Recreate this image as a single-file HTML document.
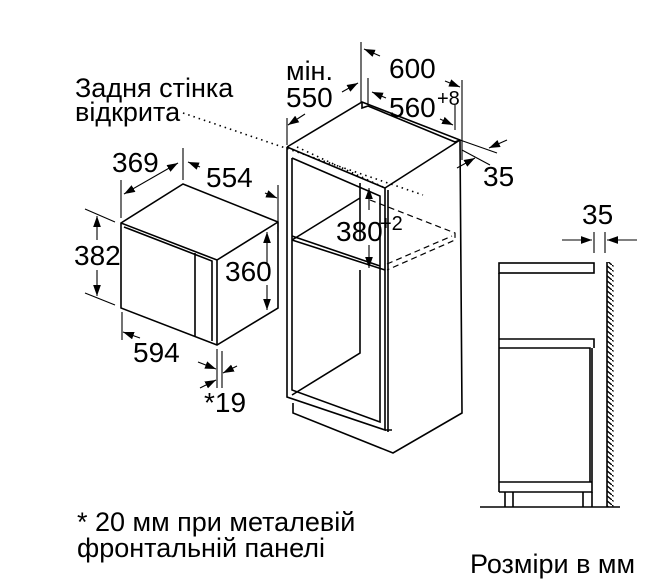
<!DOCTYPE html>
<html><head><meta charset="utf-8"><style>
html,body{margin:0;padding:0;background:#fff}
svg{display:block}
text{font-family:"Liberation Sans",Arial,sans-serif;fill:#000}
</style></head><body>
<svg width="666" height="582" viewBox="0 0 666 582" xmlns="http://www.w3.org/2000/svg">
<defs>
<marker id="a" viewBox="0 0 10 10" refX="10" refY="5" markerWidth="11" markerHeight="11" markerUnits="userSpaceOnUse" orient="auto-start-reverse"><path d="M0,1.5 L10,5 L0,8.5 z" fill="#000"/></marker>
<pattern id="h" width="6" height="5" patternUnits="userSpaceOnUse"><path d="M0,0 L6,5" stroke="#000" stroke-width="1.4"/></pattern>
</defs>
<g fill="none" stroke="#000" stroke-width="1.6">
<!-- microwave -->
<path d="M121,223 L183,184 L278,222 L278,308 L217,345 L121,308 Z"/>
<path d="M121,223 L217,260 L278,222 M217,260 L217,345"/>
<path d="M124,227 L212,261 L212,341 M195,253 L195,336"/>
<g stroke-width="1.1">
<path d="M121,180 V218 M183,148 V180 M278,185 V232"/>
<path d="M124,194 L178,163" marker-start="url(#a)" marker-end="url(#a)"/>
<path d="M188,162 L200,167" marker-start="url(#a)"/>
<path d="M265,193 L277,198" marker-end="url(#a)"/>
<path d="M85,209 L115,222 M85,293 L115,305"/>
<path d="M97,240 V216" marker-end="url(#a)"/><path d="M97,270 V296" marker-end="url(#a)"/>
<path d="M267,265 V232" marker-end="url(#a)"/><path d="M267,285 V310" marker-end="url(#a)"/>
<path d="M122,312 V340 M217,349 V388 M222,351 V388"/>
<path d="M140,338 L123,332" marker-end="url(#a)"/>
<path d="M198,362 L216,369" marker-end="url(#a)"/>
<path d="M237,366 L223,373" marker-end="url(#a)"/>
<path d="M200,388 L216,380" marker-end="url(#a)"/>
</g>
<!-- cabinet -->
<path d="M287,147 L362,102 L460,140 L462,413 L393,453 L293,413 L293,403 M287,147 L287,397 L385,430 L385,188 L287,147"/>
<path d="M362,102 L362,108 L368,106 L455,142 L460,140 M385,188 L460,140 M385,430 L392,430"/>
<path d="M292,158 L292,390 L380,422 L380,196 L292,158 M388,190 L388,432"/>
<path d="M292,240 L385,270 M292,236 L380,266 M360,183 L360,240 M360,270 L360,353 L292,395 M360,198 L292,240"/>
<g stroke-width="1.2" stroke-dasharray="6,4">
<path d="M370,200 L455,233 L455,240 L387,270 M387,264 L452,236"/>
</g>
<g stroke-width="1.6" stroke-dasharray="1.5,4">
<path d="M183,113 L423,195 M297,147 L383,187"/>
</g>
<g stroke-width="1.1">
<path d="M361,42 V102 M462,80 V160 M368,78 V105 M455,105 V130 M287,118 V145"/>
<path d="M364,49 L380,56" marker-start="url(#a)"/><path d="M445,81 L460,87" marker-end="url(#a)"/>
<path d="M372,92 L386,98" marker-start="url(#a)"/><path d="M440,119 L453,125" marker-end="url(#a)"/>
<path d="M288,125 L305,114" marker-start="url(#a)"/><path d="M342,92 L358,83" marker-end="url(#a)"/>
<path d="M460,140 L497,153 M462,150 L490,165"/>
<path d="M507,140 L489,148" marker-end="url(#a)"/><path d="M457,168 L475,158" marker-end="url(#a)"/>
<path d="M369,210 V188" marker-end="url(#a)"/><path d="M369,245 V268" marker-end="url(#a)"/>
</g>
<!-- side view -->
<rect x="499" y="263" width="95" height="10"/>
<path d="M499,273 V492 M499,339 H594 V348 M499,348 H590 V482 M592,348 V485 M499,482 H592 V492 H499"/>
<path d="M505,492 V507 M513,492 V507 M583,492 V507 M592,492 V507 M480,507 H620"/>
<path d="M607,262 V507"/>
<rect x="607.5" y="262" width="6" height="245" fill="url(#h)" stroke="none"/>
<g stroke-width="1.1">
<path d="M594,232 V253 M605,232 V253"/>
<path d="M562,240 L592,240" marker-end="url(#a)"/><path d="M637,240 L607,240" marker-end="url(#a)"/>
</g>
</g>
<g font-size="28">
<text x="75" y="97" font-size="27">Задня стінка</text>
<text x="75" y="121" font-size="27">відкрита</text>
<text x="112" y="172">369</text>
<text x="206" y="187">554</text>
<text x="74" y="265">382</text>
<text x="225" y="281">360</text>
<text x="133" y="362">594</text>
<text x="204" y="412">*19</text>
<text x="286" y="80" font-size="27">мін.</text>
<text x="286" y="107">550</text>
<text x="389" y="78">600</text>
<text x="389" y="117">560</text><text x="437" y="105" font-size="20">+8</text>
<text x="483" y="186">35</text>
<text x="336" y="241">380</text><text x="380" y="230" font-size="20">+2</text>
<text x="582" y="224">35</text>
<text x="77" y="531" font-size="27">* 20 мм при металевій</text>
<text x="77" y="557" font-size="27">фронтальній панелі</text>
<text x="470" y="573" font-size="27">Розміри в мм</text>
</g>
</svg>
</body></html>
